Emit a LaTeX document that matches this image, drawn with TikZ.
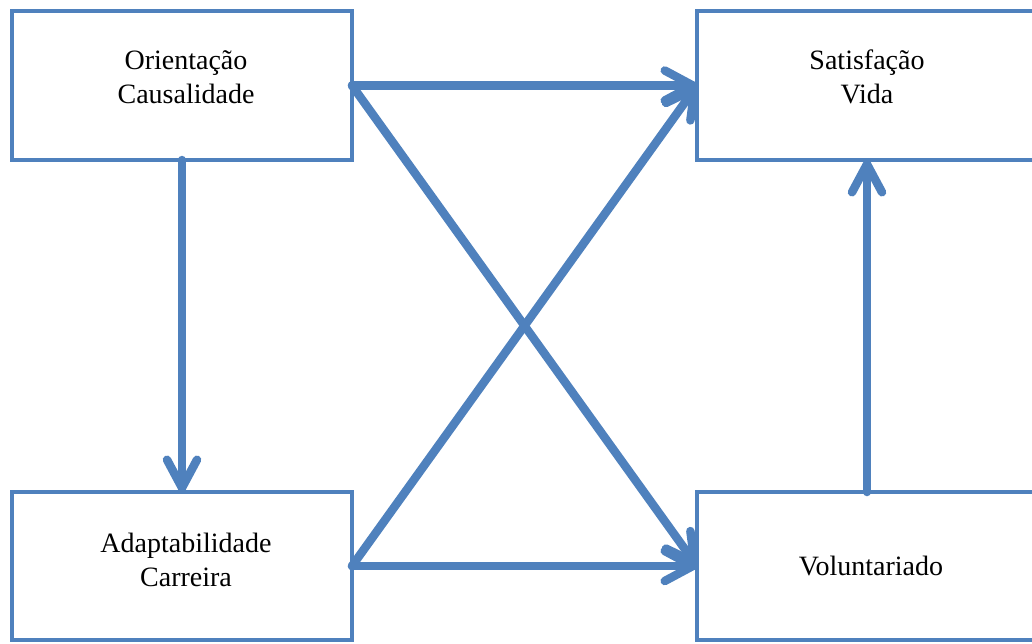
\documentclass[tikz,border=0pt]{standalone}
\usepackage{fontspec}
\setmainfont{Liberation Serif}
\usetikzlibrary{arrows.meta}
\definecolor{accentblue}{RGB}{79,129,189}
\begin{document}
\begin{tikzpicture}[x=1pt,y=-1pt,
  box/.style={draw=accentblue, line width=4.5pt, rectangle, inner sep=0pt,
    outer sep=0pt, minimum width=340pt},
  label text/.style={font=\fontsize{28}{34}\selectfont, align=center,
    inner sep=0pt, text=black},
  link/.style={draw=accentblue, line width=8.5pt, line cap=round,
    -{Straight Barb[length=28pt, width=30pt, round]}}]
  % frame of the picture
  \useasboundingbox (0,0) rectangle (1032,643);

  % the four boxes
  \node[box, minimum height=149pt] (oc) at (182,85.5) {};
  \node[box, minimum height=149pt] (sv) at (867,85.5) {};
  \node[box, minimum height=148pt] (ac) at (182,566) {};
  \node[box, minimum height=148pt] (vo) at (867,566) {};

  % box captions
  \node[label text] (ocText) at (186,77) {Orientação\\Causalidade};
  \node[label text] (svText) at (867,77) {Satisfação\\Vida};
  \node[label text] (acText) at (186,560) {Adaptabilidade\\Carreira};
  \node[label text] (voText) at (871,566) {Voluntariado};

  % paths between the constructs
  \draw[link] (oc.east) -- (sv.west);
  \draw[link] (oc.east) -- (vo.west);
  \draw[link] (ac.east) -- (sv.west);
  \draw[link] (ac.east) -- (vo.west);
  \draw[link] (oc.south) -- (ac.north);
  \draw[link] (vo.north) -- (sv.south);
\end{tikzpicture}
\end{document}
